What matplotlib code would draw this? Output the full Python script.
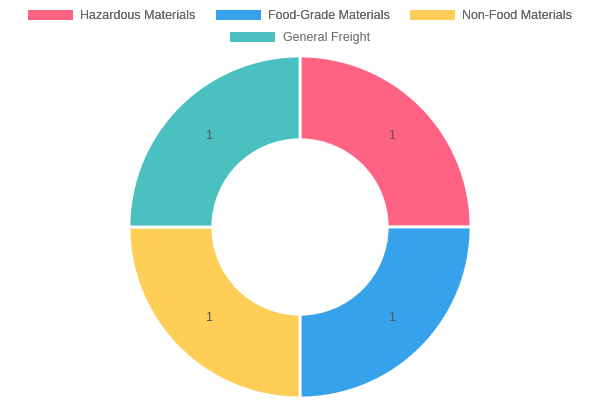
import matplotlib
matplotlib.use("Agg")
import matplotlib.pyplot as plt
from matplotlib.patches import Patch

categories = ["Hazardous Materials", "Food-Grade Materials", "Non-Food Materials", "General Freight"]
values = [1, 1, 1, 1]
colors = ["#FF6384", "#36A2EB", "#FFCE56", "#4BC0C0"]

plt.rcParams['font.family'] = ['Liberation Sans', 'DejaVu Sans']
fig = plt.figure(figsize=(6, 4), dpi=100)
ax = fig.add_axes([129/600, 2/400, 342/600, 342/400])
total = sum(values)
ax.pie(values, colors=colors, startangle=90, counterclock=False, radius=1,
       wedgeprops=dict(width=0.49, edgecolor="white", linewidth=2),
       autopct=lambda p: f"{round(p*total/100):g}", pctdistance=0.755,
       textprops=dict(color="#555555", fontsize=9))
ax.set_aspect("equal")
ax.set_xlim(-1, 1); ax.set_ylim(-1, 1)
ax.axis("off")

handles = [Patch(facecolor=c, edgecolor="none") for c in colors]
kw = dict(frameon=False, handlelength=3.6, handleheight=0.8, handletextpad=0.6,
          fontsize=9, labelcolor="#666666", columnspacing=1.6)
l1 = fig.legend(handles[:3], categories[:3], ncol=3, loc="center", bbox_to_anchor=(0.5, 1-16/400), **kw)
fig.add_artist(l1)
fig.legend(handles[3:], categories[3:], ncol=1, loc="center", bbox_to_anchor=(0.5, 1-38/400), **kw)
fig.savefig("out.png", dpi=100)
